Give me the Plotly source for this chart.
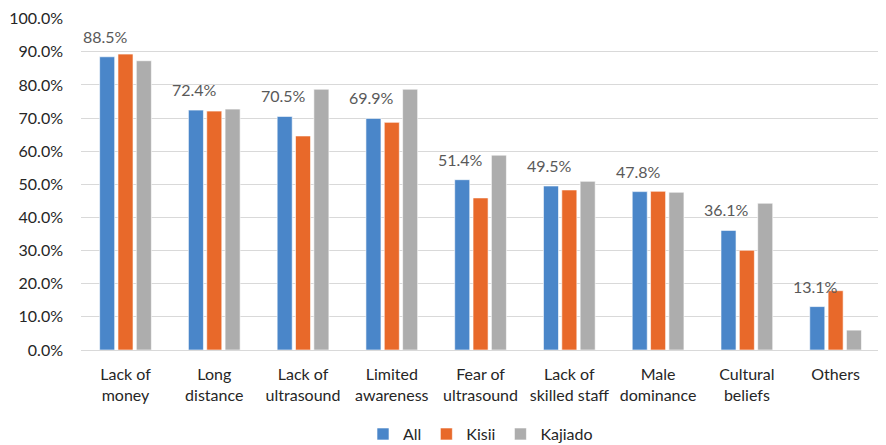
import plotly.graph_objects as go

categories = ["Lack of<br>money", "Long<br>distance", "Lack of<br>ultrasound", "Limited<br>awareness",
              "Fear of<br>ultrasound", "Lack of<br>skilled staff", "Male<br>dominance", "Cultural<br>beliefs", "Others"]
all_vals = [88.5, 72.4, 70.5, 69.9, 51.4, 49.5, 47.8, 36.1, 13.1]
kisii_vals = [89.3, 72.1, 64.6, 68.7, 45.9, 48.3, 47.9, 30.1, 17.9]
kajiado_vals = [87.3, 72.7, 78.7, 78.7, 58.8, 50.9, 47.6, 44.3, 6.0]

series = [("All", all_vals, "#4A86C9"), ("Kisii", kisii_vals, "#E8692A"), ("Kajiado", kajiado_vals, "#ADADAD")]

fig = go.Figure()
for name, vals, color in series:
    fig.add_trace(go.Bar(
        name=name, x=categories, y=[v / 100 for v in vals],
        marker=dict(color=color, line=dict(color="rgba(255,255,255,0.6)", width=1)),
    ))

for cat, v in zip(categories, all_vals):
    fig.add_annotation(x=cat, y=v / 100, text=f"{v:.1f}%", showarrow=False,
                       xref="x", yref="y", xshift=-20, yshift=9, yanchor="bottom",
                       font=dict(size=16, color="#595959"))

# The page body has an 8px default margin, so the figure is sized to fit the window.
font_family = "Lato, 'Open Sans', sans-serif"
fig.update_layout(
    width=878, height=437,
    margin=dict(l=73, r=6, t=10, b=95, autoexpand=False),
    paper_bgcolor="white", plot_bgcolor="white",
    barmode="group", bargap=0.38, bargroupgap=0.18,
    font=dict(family=font_family, size=16, color="#262626"),
    showlegend=True,
    legend=dict(orientation="h", x=0.5, xanchor="center", yref="container", y=0.025, yanchor="middle",
                font=dict(size=16, color="#262626"), itemwidth=30, traceorder="normal"),
    xaxis=dict(showgrid=False, showline=False, ticks="", tickfont=dict(size=16, color="#262626"),
               ticklabelstandoff=13, automargin=False),
    yaxis=dict(range=[0, 1.002], tick0=0, dtick=0.1, tickformat=".1%", showgrid=True, gridcolor="#D9D9D9",
               gridwidth=1, zeroline=True, zerolinecolor="#D9D9D9", zerolinewidth=1,
               showline=False, ticks="", ticklabelstandoff=17, automargin=False,
               ticklabeloverflow="allow",
               tickfont=dict(size=16, color="#262626")),
)

fig.write_html("out.html")
